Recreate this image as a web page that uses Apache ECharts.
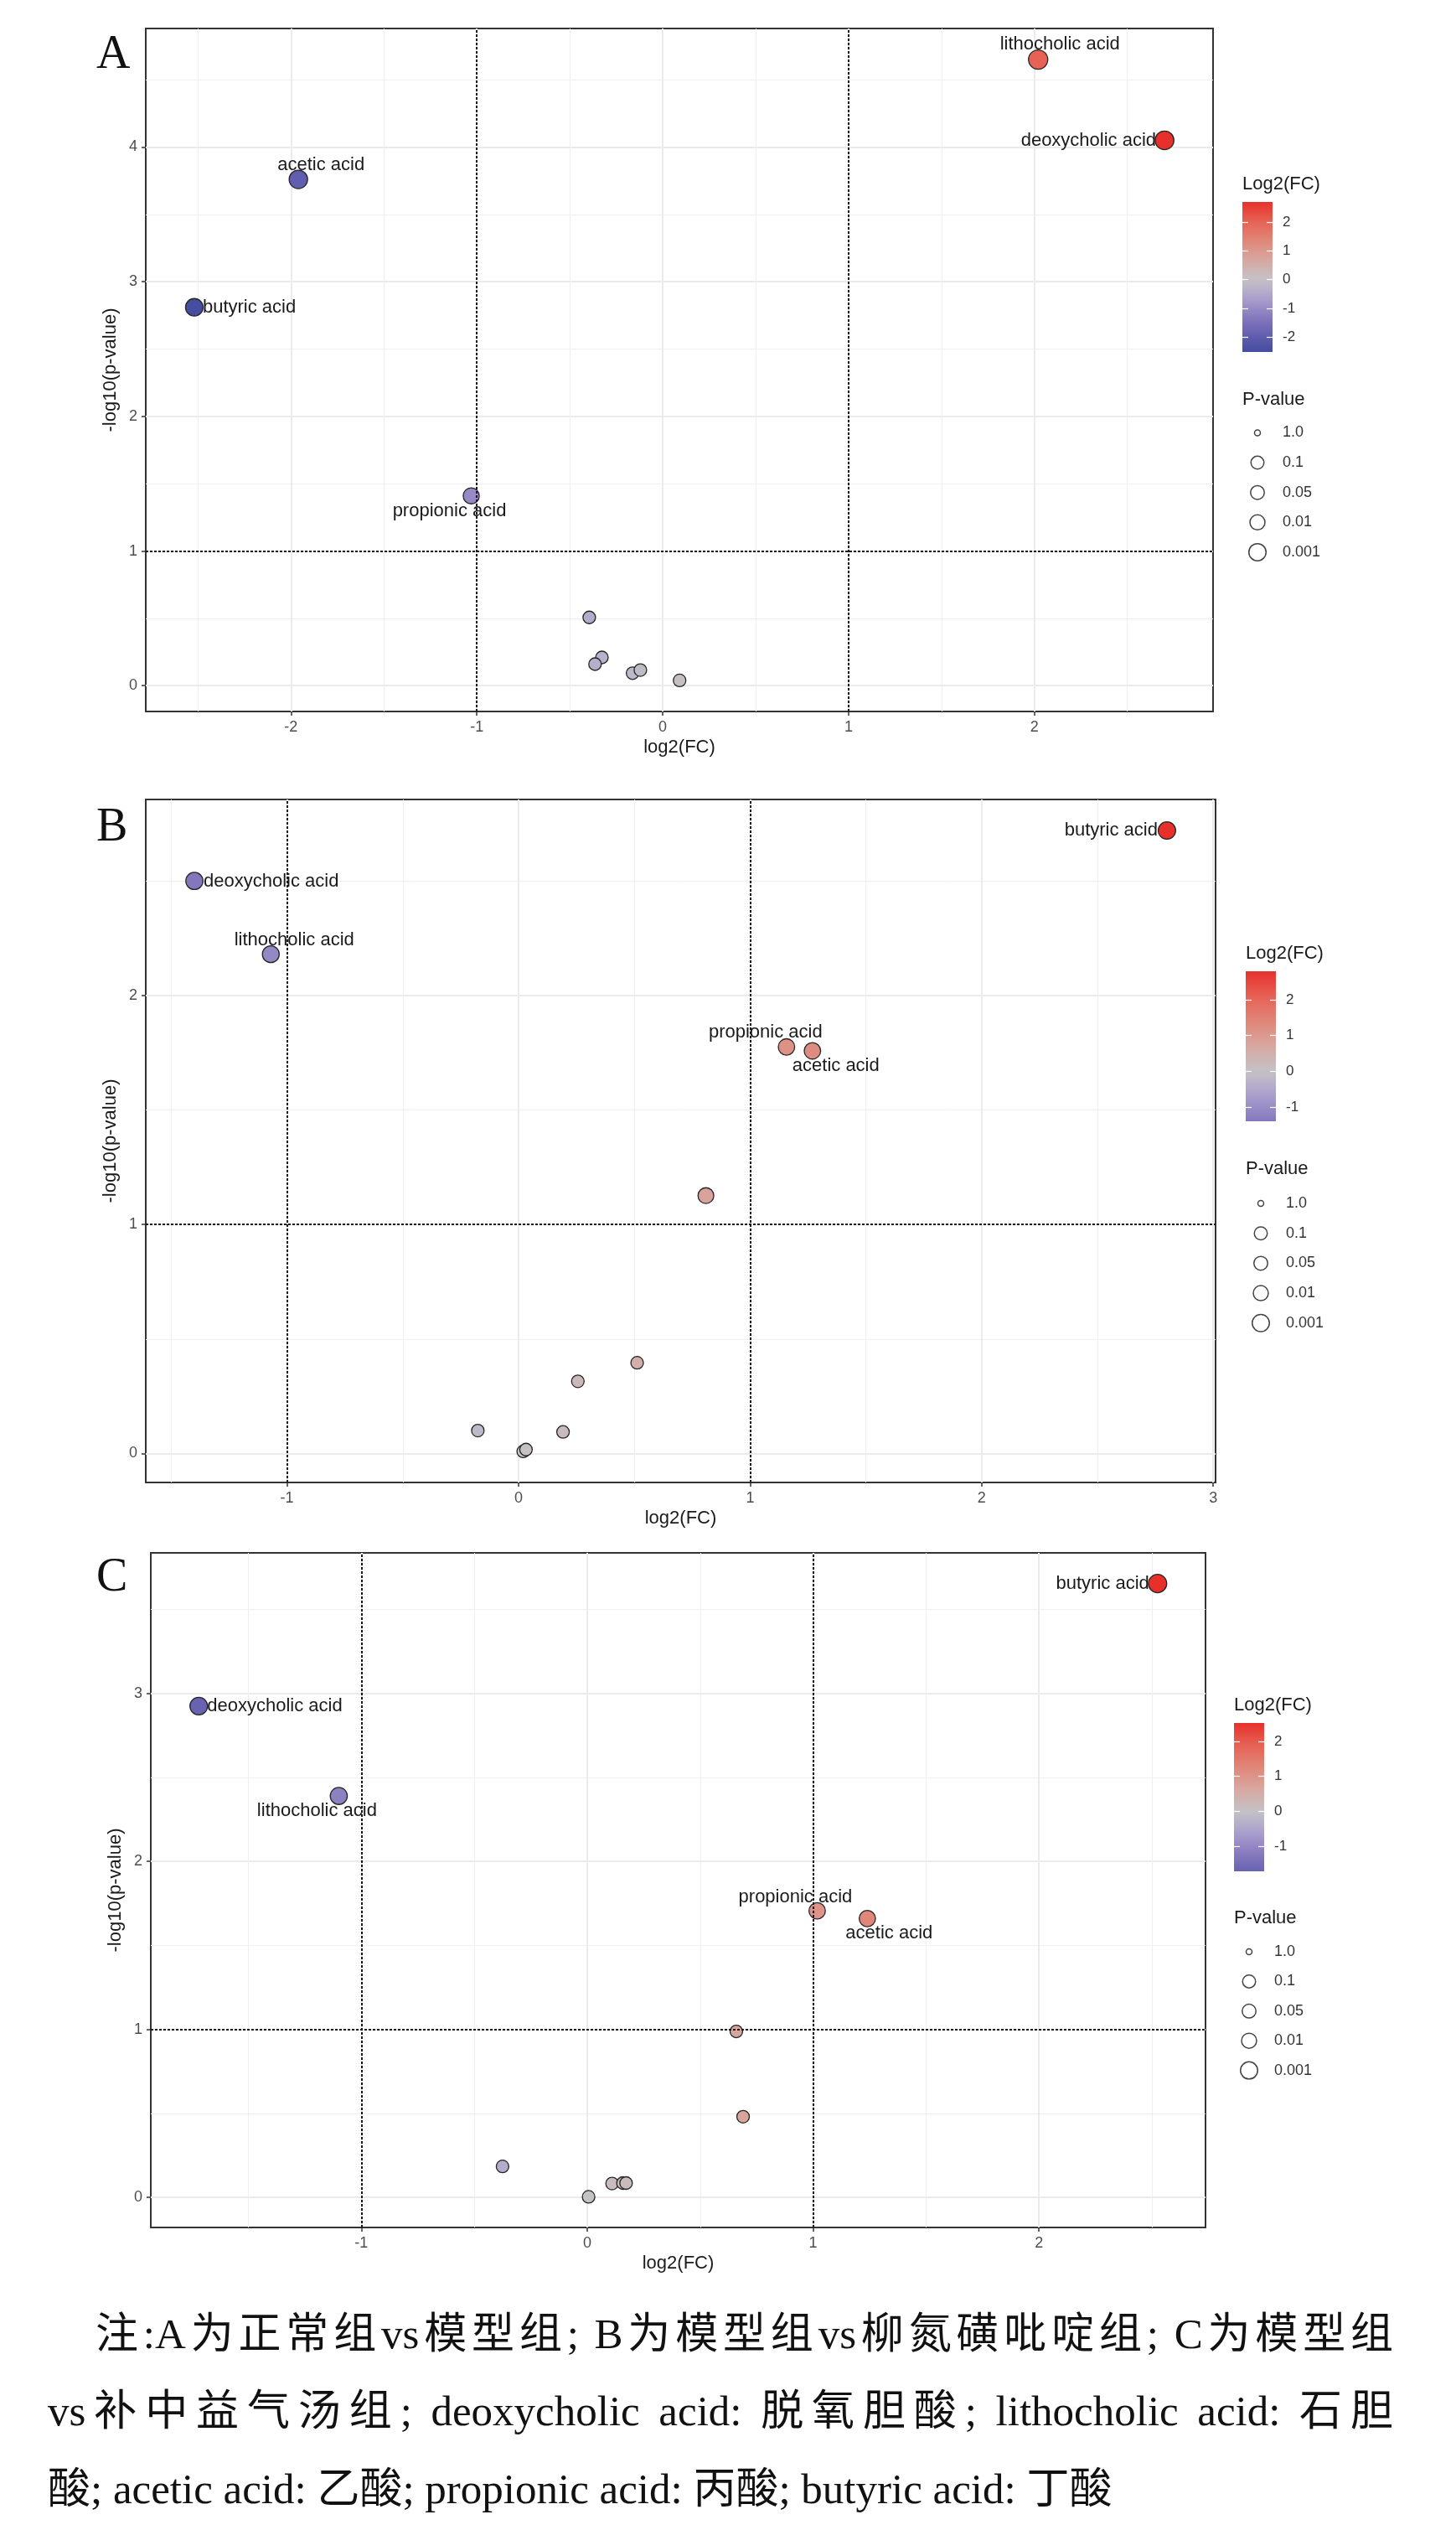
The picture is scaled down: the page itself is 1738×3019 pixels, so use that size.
<!DOCTYPE html>
<html lang="zh">
<head>
<meta charset="utf-8">
<script src="https://cdn.jsdelivr.net/npm/echarts@6/dist/echarts.min.js"></script>
<style>
body { margin: 0; background: #fff; }
#chart { position: absolute; left: 0; top: 0; width: 1738px; height: 3019px; }
.note { position: absolute; font-family: "Liberation Serif", "Noto Sans CJK SC", serif; font-size: 51px; line-height: 60px; color: #111; white-space: nowrap; }
.just { white-space: normal; text-align: justify; text-align-last: justify; }
</style>
</head>
<body>
<div id="chart"></div>
<div class="note just" style="left:114px;top:2755px;width:1549px">注:A为正常组vs模型组; B为模型组vs柳氮磺吡啶组; C为模型组</div>
<div class="note just" style="left:57px;top:2847px;width:1606px">vs补中益气汤组; deoxycholic acid: 脱氧胆酸; lithocholic acid: 石胆</div>
<div class="note" style="left:57px;top:2940px">酸; acetic acid: 乙酸; propionic acid: 丙酸; butyric acid: 丁酸</div>
<script>
// panel A: normal vs model
var fcA = [2.02, 2.70, -1.96, -2.52, -1.03, -0.395, -0.327, -0.364, -0.162, -0.12, 0.091];
var logpA = [4.65, 4.05, 3.76, 2.81, 1.41, 0.507, 0.21, 0.16, 0.093, 0.116, 0.039];
var namesA = ['lithocholic acid', 'deoxycholic acid', 'acetic acid', 'butyric acid', 'propionic acid', '', '', '', '', '', ''];

// panel B: model vs sulfasalazine
var fcB = [2.80, -1.40, -1.07, 1.157, 1.269, 0.809, 0.512, 0.256, -0.176, 0.192, 0.02, 0.032];
var logpB = [2.72, 2.50, 2.18, 1.775, 1.758, 1.126, 0.396, 0.315, 0.10, 0.094, 0.009, 0.017];
var namesB = ['butyric acid', 'deoxycholic acid', 'lithocholic acid', 'propionic acid', 'acetic acid', '', '', '', '', '', '', ''];

// panel C: model vs buzhong yiqi decoction
var fcC = [2.525, -1.72, -1.10, 1.018, 1.24, 0.66, 0.69, -0.375, 0.11, 0.158, 0.172, 0.006];
var logpC = [3.655, 2.925, 2.39, 1.706, 1.66, 0.988, 0.48, 0.184, 0.082, 0.085, 0.085, 0.003];
var namesC = ['butyric acid', 'deoxycholic acid', 'lithocholic acid', 'propionic acid', 'acetic acid', '', '', '', '', '', '', ''];

var thresholdFC = [-1, 1];
var thresholdLogP = 1;
var pLegendLabels = ['1.0', '0.1', '0.05', '0.01', '0.001'];

var FONT = 'Liberation Sans';
// low -> mid -> high, evenly spaced over [-max|fc|, +max|fc|]
var palette = ['#3c489d', '#5e5bad', '#8477bd', '#a99ecd', '#c4c2c6', '#d7a8a1', '#e08678', '#e66255', '#e8302b'];
var pLegendSizes = [7, 15.5, 16.5, 18, 20.5];

// label placement next to its point: [align, dx, dy]
var placeA = {
    'lithocholic acid': ['center', 26, -18],
    'deoxycholic acid': ['right', -10, 0],
    'acetic acid': ['center', 27, -17],
    'butyric acid': ['left', 10, 0],
    'propionic acid': ['center', -26, 18]
};
var placeB = {
    'butyric acid': ['right', -11, 0],
    'deoxycholic acid': ['left', 11, 1],
    'lithocholic acid': ['center', 28, -17],
    'propionic acid': ['center', -25, -17],
    'acetic acid': ['center', 28, 18]
};
var placeC = {
    'butyric acid': ['right', -10, 0],
    'deoxycholic acid': ['left', 10, 0],
    'lithocholic acid': ['center', -26, 18],
    'propionic acid': ['center', -26, -16],
    'acetic acid': ['center', 26, 18]
};

var panels = [
    { letter: 'A', fc: fcA, logp: logpA, names: namesA, place: placeA,
      grid: { left: 174, top: 34, width: 1274, height: 815 }, letterY: 66,
      legend: { x: 1483, title: 220, barTop: 241, barH: 179, pTitle: 477, item0: 516.5, step: 35.6 } },
    { letter: 'B', fc: fcB, logp: logpB, names: namesB, place: placeB,
      grid: { left: 174, top: 954, width: 1277, height: 815 }, letterY: 988,
      legend: { x: 1487, title: 1138, barTop: 1159, barH: 179, pTitle: 1395, item0: 1436, step: 35.7 } },
    { letter: 'C', fc: fcC, logp: logpC, names: namesC, place: placeC,
      grid: { left: 180, top: 1853, width: 1259, height: 805 }, letterY: 1883,
      legend: { x: 1473, title: 2035, barTop: 2056, barH: 177, pTitle: 2289, item0: 2329, step: 35.4 } }
];

function padRange(arr) {
    var lo = Math.min.apply(null, arr), hi = Math.max.apply(null, arr);
    var s = (hi - lo) * 0.05;
    return [lo - s, hi + s];
}

function steps(lo, hi, off) {
    var out = [];
    for (var v = Math.ceil(lo - off) + off; v <= hi + 1e-9; v += 1) {
        out.push(+v.toFixed(2));
    }
    return out;
}

function hexRgb(h) {
    return [parseInt(h.substr(1, 2), 16), parseInt(h.substr(3, 2), 16), parseInt(h.substr(5, 2), 16)];
}

function colorAt(t) {
    var pos = (t + 1) / 2 * (palette.length - 1);
    pos = Math.max(0, Math.min(palette.length - 1, pos));
    var i = Math.min(Math.floor(pos), palette.length - 2);
    var f = pos - i;
    var a = hexRgb(palette[i]), b = hexRgb(palette[i + 1]);
    return 'rgb(' + [0, 1, 2].map(function (j) { return Math.round(a[j] + (b[j] - a[j]) * f); }).join(',') + ')';
}

function mainAxis(gi, r, title, gap) {
    var ticks = steps(r[0], r[1], 0);
    return {
        type: 'value', gridIndex: gi, min: r[0], max: r[1],
        name: title, nameLocation: 'middle', nameGap: gap,
        nameTextStyle: { fontFamily: FONT, fontSize: 22, color: '#1a1a1a' },
        axisLine: { show: false, onZero: false },
        axisTick: { show: true, length: 5, customValues: ticks, lineStyle: { color: '#333', width: 1.5 } },
        axisLabel: { customValues: ticks, margin: 10, fontFamily: FONT, fontSize: 18, color: '#4d4d4d' },
        splitLine: { show: true, lineStyle: { color: '#ebebeb', width: 2 } }
    };
}

function minorAxis(gi, r) {
    var v = steps(r[0], r[1], 0.5);
    return {
        type: 'value', gridIndex: gi, min: r[0], max: r[1],
        axisLine: { show: false, onZero: false },
        axisTick: { show: false, customValues: v },
        axisLabel: { show: false, customValues: v },
        splitLine: { show: true, lineStyle: { color: '#efefef', width: 1 } }
    };
}

function sizeOf(v) {
    return v[1] < 1 ? 15 : Math.min(23, 17.5 + 1.2 * v[1]);
}

var grids = [], xAxes = [], yAxes = [], series = [], visualMaps = [], graphics = [];
var barGrids = [], barX = [], barY = [];

panels.forEach(function (p, k) {
    var xr = padRange(p.fc), yr = padRange(p.logp);
    grids.push({
        left: p.grid.left, top: p.grid.top, width: p.grid.width, height: p.grid.height,
        show: true, borderColor: '#333', borderWidth: 2, backgroundColor: 'transparent'
    });
    xAxes.push(mainAxis(k, xr, 'log2(FC)', 32), minorAxis(k, xr));
    yAxes.push(mainAxis(k, yr, '-log10(p-value)', 29), minorAxis(k, yr));

    var markData = thresholdFC.map(function (v) { return { xAxis: v }; });
    markData.push({ yAxis: thresholdLogP });

    series.push({
        type: 'scatter',
        xAxisIndex: 2 * k, yAxisIndex: 2 * k,
        data: p.fc.map(function (x, i) {
            var item = { value: [x, p.logp[i]], name: p.names[i] };
            var pl = p.place[p.names[i]];
            if (pl) {
                item.label = { show: true, position: 'inside', align: pl[0], offset: [pl[1], pl[2]] };
            }
            return item;
        }),
        symbolSize: sizeOf,
        itemStyle: { borderColor: '#262626', borderWidth: 1.3, opacity: 1 },
        label: { show: false, formatter: '{b}', fontFamily: FONT, fontSize: 22, color: '#1a1a1a' },
        emphasis: { disabled: true },
        markLine: {
            silent: true, symbol: ['none', 'none'], label: { show: false },
            lineStyle: { color: '#1a1a1a', type: [3, 2], width: 2 },
            data: markData
        },
        z: 3
    });

    var lo = Math.min.apply(null, p.fc), hi = Math.max.apply(null, p.fc);
    var M = Math.max(Math.abs(lo), Math.abs(hi));
    visualMaps.push({
        type: 'continuous', show: false, seriesIndex: k, dimension: 0,
        min: -M, max: M, inRange: { color: palette }
    });

    // colour bar: its own small grid, ticks on both sides, labels on the right
    var L = p.legend;
    var cg = panels.length + k;
    barGrids.push({ left: L.x, top: L.barTop, width: 36, height: L.barH, show: false });
    var cbTicks = steps(lo, hi, 0);
    barX.push({ type: 'value', gridIndex: cg, min: 0, max: 1, show: false });
    barY.push({
        type: 'value', gridIndex: cg, position: 'left', min: lo, max: hi, z: 10,
        axisLine: { show: false, onZero: false }, splitLine: { show: false },
        axisLabel: { show: false, customValues: cbTicks },
        axisTick: { inside: true, length: 7, customValues: cbTicks, lineStyle: { color: '#fff', width: 1.2 } }
    });
    barY.push({
        type: 'value', gridIndex: cg, position: 'right', min: lo, max: hi, z: 10,
        axisLine: { show: false, onZero: false }, splitLine: { show: false },
        axisLabel: { customValues: cbTicks, margin: 12, fontFamily: FONT, fontSize: 17, color: '#333' },
        axisTick: { inside: true, length: 7, customValues: cbTicks, lineStyle: { color: '#fff', width: 1.2 } }
    });

    var stops = [];
    for (var s = 0; s <= 20; s++) {
        var v = hi - (hi - lo) * s / 20;
        stops.push({ offset: s / 20, color: colorAt(v / M) });
    }
    graphics.push({
        type: 'rect', z: 1, silent: true,
        shape: { x: L.x, y: L.barTop, width: 36, height: L.barH },
        style: { fill: new echarts.graphic.LinearGradient(0, 0, 0, 1, stops) }
    });
    graphics.push({
        type: 'text', x: L.x, y: L.title, silent: true,
        style: { text: 'Log2(FC)', font: '22px "' + FONT + '"', fill: '#1a1a1a', verticalAlign: 'middle' }
    });
    graphics.push({
        type: 'text', x: L.x, y: L.pTitle, silent: true,
        style: { text: 'P-value', font: '22px "' + FONT + '"', fill: '#1a1a1a', verticalAlign: 'middle' }
    });
    pLegendLabels.forEach(function (lab, i) {
        var cy = L.item0 + i * L.step;
        graphics.push({
            type: 'circle', silent: true,
            shape: { cx: L.x + 18, cy: cy, r: pLegendSizes[i] / 2 },
            style: { fill: 'none', stroke: '#444', lineWidth: 1.5 }
        });
        graphics.push({
            type: 'text', x: L.x + 48, y: cy, silent: true,
            style: { text: lab, font: '18px "' + FONT + '"', fill: '#333', verticalAlign: 'middle' }
        });
    });

    graphics.push({
        type: 'text', x: 115, y: p.letterY, silent: true,
        style: { text: p.letter, font: '56px "Liberation Serif"', fill: '#111', verticalAlign: 'middle' }
    });
});

var option = {
    animation: false,
    backgroundColor: '#fff',
    grid: grids.concat(barGrids),
    xAxis: xAxes.concat(barX),
    yAxis: yAxes.concat(barY),
    series: series,
    visualMap: visualMaps,
    graphic: graphics
};

var chart = echarts.init(document.getElementById('chart'));
chart.setOption(option);
</script>
</body>
</html>
